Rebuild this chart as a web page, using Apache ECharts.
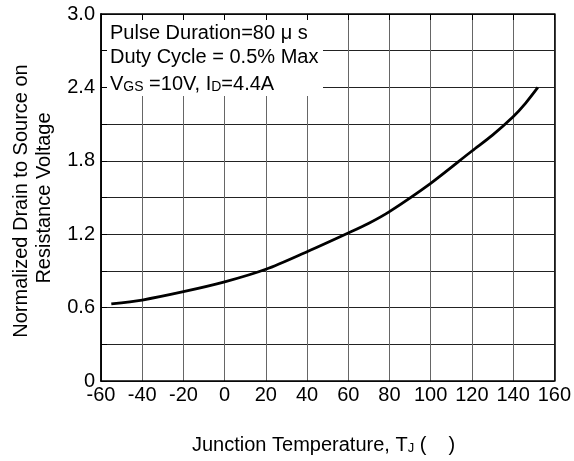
<!DOCTYPE html>
<html>
<head>
<meta charset="utf-8">
<script src="https://cdn.jsdelivr.net/npm/echarts@6/dist/echarts.min.js"></script>
<style>
html,body{margin:0;padding:0;background:#fff;}
#c{width:574px;height:461px;}
</style>
</head>
<body>
<div id="c"></div>
<script>
var temps = [-55, -40, -20, 0, 20, 40, 60, 70, 80, 100, 120, 130, 140, 146, 152];
var rdson = [0.63, 0.662, 0.73, 0.81, 0.913, 1.057, 1.21, 1.29, 1.385, 1.616, 1.88, 2.01, 2.16, 2.27, 2.40];
var xTicks = [-60, -40, -20, 0, 20, 40, 60, 80, 100, 120, 140, 160];
var yTickLabels = ['0', '0.6', '1.2', '1.8', '2.4', '3.0'];
var noteLines = ['Pulse Duration=80 \u03bc s', 'Duty Cycle = 0.5% Max', '{n|V}{s|GS}{n| =10V, I}{s|D}{n|=4.4A}'];
var xName = 'Junction Temperature, T';
var yName = ['Normalized Drain to Source on', 'Resistance Voltage'];

var FONT = '"Liberation Sans", Arial, sans-serif';
var FS = 20;
var chart = echarts.init(document.getElementById('c'));
var L = 101, R = 556, T = 14, B = 381;

function yLabel(v) {
  var k = v / 0.6;
  if (Math.abs(k - Math.round(k)) < 1e-6) return yTickLabels[Math.round(k)];
  return '';
}

var option = {
  animation: false,
  backgroundColor: '#fff',
  grid: { left: L, right: 574 - R, top: T, bottom: 461 - B, containLabel: false },
  xAxis: [
    { type: 'value', min: -60, max: 160, interval: 20, position: 'bottom', z: 0,
      axisLine: { show: true, onZero: false, lineStyle: { color: '#000', width: 1.5 } },
      axisTick: { show: false },
      splitLine: { show: true, lineStyle: { color: '#666', width: 1 } },
      axisLabel: { color: '#000', fontSize: FS, fontFamily: FONT, margin: 4,
        formatter: function (v) { return xTicks.indexOf(v) >= 0 ? String(v) : ''; } } },
    { type: 'value', min: -60, max: 160, interval: 20, position: 'top', z: 5,
      axisLine: { show: true, onZero: false, lineStyle: { color: '#000', width: 1.5 } },
      axisTick: { show: true, inside: true, length: 6, lineStyle: { color: '#000', width: 1 } },
      splitLine: { show: false }, axisLabel: { show: false } }
  ],
  yAxis: [
    { type: 'value', min: 0, max: 3, interval: 0.3, position: 'left', z: 0,
      axisLine: { show: true, onZero: false, lineStyle: { color: '#000', width: 1.5 } },
      axisTick: { show: false },
      splitLine: { show: true, lineStyle: { color: '#222', width: 1 } },
      axisLabel: { color: '#000', fontSize: FS, fontFamily: FONT, margin: 6, formatter: yLabel } },
    { type: 'value', min: 0, max: 3, interval: 0.3, position: 'left', z: 5,
      axisLine: { show: true, onZero: false, lineStyle: { color: '#000', width: 1.5 } },
      axisTick: { show: true, inside: true, length: 6, lineStyle: { color: '#000', width: 1 } },
      splitLine: { show: false }, axisLabel: { show: false } },
    { type: 'value', min: 0, max: 3, interval: 0.3, position: 'right', z: 5,
      axisLine: { show: true, onZero: false, lineStyle: { color: '#000', width: 1.5 } },
      axisTick: { show: false }, splitLine: { show: false }, axisLabel: { show: false } }
  ],
  series: [{
    type: 'line', xAxisIndex: 0, yAxisIndex: 0, z: 6,
    data: temps.map(function (t, i) { return [t, rdson[i]]; }),
    smooth: 0.3, showSymbol: false, symbol: 'none',
    lineStyle: { color: '#000', width: 2.8 }
  }],
  graphic: [
    { type: 'rect', z: 1, shape: { x: L + 1, y: T + 1, width: 323 - L - 1, height: 96 - T - 1 },
      style: { fill: '#fff' } },
    { type: 'text', z: 10, x: 110, y: 33, style: { text: noteLines[0], fill: '#000', font: FS + 'px ' + FONT, verticalAlign: 'middle' } },
    { type: 'text', z: 10, x: 110, y: 57, style: { text: noteLines[1], fill: '#000', font: FS + 'px ' + FONT, verticalAlign: 'middle' } },
    { type: 'text', z: 10, x: 110, y: 82, style: { text: noteLines[2], verticalAlign: 'middle',
        rich: { n: { fontSize: FS, fontFamily: FONT, fill: '#000', verticalAlign: 'bottom', lineHeight: 24 },
                s: { fontSize: 14, fontFamily: FONT, fill: '#000', verticalAlign: 'bottom', lineHeight: 22 } } } },
    { type: 'text', z: 10, x: 192, y: 443, style: { text: '{n|' + xName + '}{s|J}{n| (    )}',
        verticalAlign: 'middle',
        rich: { n: { fontSize: FS, fontFamily: FONT, fill: '#000', verticalAlign: 'bottom', lineHeight: 24 },
                s: { fontSize: 13, fontFamily: FONT, fill: '#000', verticalAlign: 'bottom', lineHeight: 22 } } } },
    { type: 'text', z: 10, x: 21, y: 201, rotation: Math.PI / 2,
      style: { text: yName[0], fill: '#000', font: FS + 'px ' + FONT, align: 'center', verticalAlign: 'middle' } },
    { type: 'text', z: 10, x: 44, y: 198, rotation: Math.PI / 2,
      style: { text: yName[1], fill: '#000', font: FS + 'px ' + FONT, align: 'center', verticalAlign: 'middle' } }
  ]
};
chart.setOption(option);
</script>
</body>
</html>
